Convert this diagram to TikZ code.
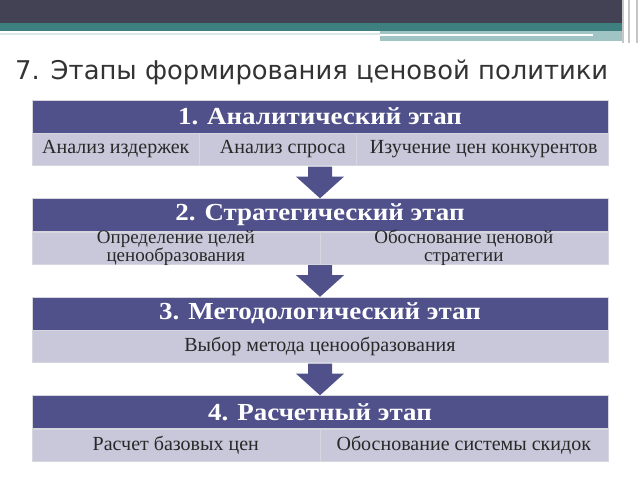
\documentclass[tikz,border=0pt]{standalone}
\usepackage{fontspec}
\setmainfont{Liberation Serif}
\newfontfamily\headfont[FakeStretch=1.1]{Liberation Serif}
\newfontfamily\titlefont{DejaVu Sans}
\usetikzlibrary{positioning}
\usetikzlibrary{calc}

\definecolor{headcol}{RGB}{80,80,138}
\definecolor{rowcol}{RGB}{200,200,218}
\definecolor{rimcol}{RGB}{214,214,222}
\definecolor{celltext}{RGB}{40,40,40}
\definecolor{titlecol}{RGB}{51,51,51}
\definecolor{barcol}{RGB}{66,66,84}
\definecolor{tealcol}{RGB}{62,128,128}
\definecolor{lighttealcol}{RGB}{160,196,196}

\begin{document}
\begin{tikzpicture}[x=1pt,y=-1pt,
    head/.style={fill=headcol, draw=rimcol, text=white, inner sep=0pt,
      minimum width=576pt, minimum height=33pt,
      font=\headfont\bfseries\fontsize{24.5}{26}\selectfont},
    row/.style={fill=rowcol, draw=rimcol, inner sep=0pt,
      minimum width=576pt, minimum height=32pt},
    cell/.style={text=celltext, align=center, inner sep=0pt,
      font=\fontsize{20}{18}\selectfont},
    twoline/.style={cell, font=\fontsize{19}{18}\selectfont},
    split/.style={draw=rimcol, line width=0.8pt},
    blockarrow/.style={fill=headcol}]
    \path[fill=white, use as bounding box] (0,0) rectangle (640,480);

    % slide header band
    \fill[barcol] (0,0) rectangle (622,23);
    \fill[tealcol] (0,23) rectangle (622,31);
    \fill[lighttealcol] (380,31) rectangle (622,41);
    \fill[white] (380,34) rectangle (593,36);
    \fill[lighttealcol!40] (0,33) rectangle (380,35);
    \foreach \x in {623,629,637}{
    \draw[gray!45, line width=1.2pt] (\x,0) -- (\x,43);
    }

    \node[text=titlecol, anchor=west, inner sep=0pt,
      font=\titlefont\fontsize{25.8}{28}\selectfont] (title) at (15,72)
      {7. Этапы формирования ценовой политики};

    \foreach \k/\name in {1/{1. Аналитический этап},
        2/{2. Стратегический этап},
        3/{3. Методологический этап},
        4/{4. Расчетный этап}}{
    \node[head] (h\k) at (320,{116.5+98.5*(\k-1)}) {\name};
    \node[row, below=0pt of h\k] (r\k) {};
    }

    \draw[split] ($(r1.north west)+(168,0)$) -- ($(r1.south west)+(168,0)$);
    \draw[split] ($(r1.north west)+(325,0)$) -- ($(r1.south west)+(325,0)$);
    \node[cell] (c11) at ($(r1.west)+(84,0)$) {Анализ издержек};
    \node[cell] (c12) at ($(r1.west)+(251,0)$) {Анализ спроса};
    \node[cell] (c13) at ($(r1.west)+(452,0)$) {Изучение цен конкурентов};

    \draw[split] (r2.north) -- (r2.south);
    \node[twoline] (c21) at ($(r2.west)+(144,0)$) {Определение целей\\ценообразования};
    \node[twoline] (c22) at ($(r2.west)+(432,0)$) {Обоснование ценовой\\стратегии};

    \node[cell] (c31) at (r3.center) {Выбор метода ценообразования};

    \draw[split] (r4.north) -- (r4.south);
    \node[cell] (c41) at ($(r4.west)+(144,0)$) {Расчет базовых цен};
    \node[cell] (c42) at ($(r4.west)+(432,0)$) {Обоснование системы скидок};

    \foreach \i/\j in {1/2,2/3,3/4}{
    \fill[blockarrow] ($(r\i.south)+(-12,1)$) -- ($(r\i.south)+(12,1)$)
      -- ($(r\i.south)+(12,11)$) -- ($(r\i.south)+(24,11)$) -- (h\j.north)
      -- ($(r\i.south)+(-24,11)$) -- ($(r\i.south)+(-12,11)$) -- cycle;
    }
\end{tikzpicture}
\end{document}
